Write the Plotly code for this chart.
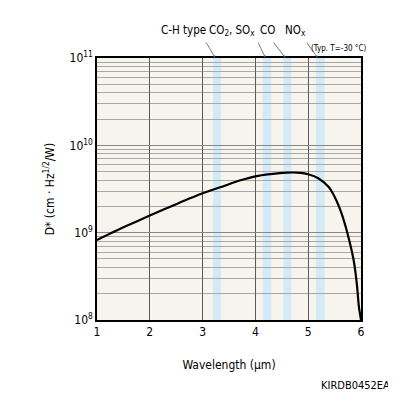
import plotly.graph_objects as go

# Curve data (wavelength in um, D* in cm*Hz^1/2/W)
wavelength = [1.0, 1.5, 2.0, 2.5, 3.0, 3.42, 3.7, 4.0, 4.28, 4.6, 4.85, 5.0, 5.19, 5.38, 5.5, 5.63, 5.76, 5.86, 5.92, 5.96, 6.0]
dstar = [8.24e8, 1.15e9, 1.57e9, 2.12e9, 2.82e9, 3.45e9, 3.95e9, 4.42e9, 4.68e9, 4.87e9, 4.85e9, 4.67e9, 4.20e9, 3.37e9, 2.58e9, 1.67e9, 9.0e8, 4.87e8, 2.63e8, 1.42e8, 1.0e8]

# Absorption bands (um)
band_names = ["C-H type", "CO2, SOx", "CO", "NOx"]
band_start = [3.20, 4.14, 4.53, 5.15]
band_end = [3.35, 4.30, 4.68, 5.31]

x_ticks = [1, 2, 3, 4, 5, 6]
y_ticks = [1e8, 1e9, 1e10, 1e11]
y_ticktext = ["10<sup>8</sup>", "10<sup>9</sup>", "10<sup>10</sup>", "10<sup>11</sup>"]
y_minor = [m * 10 ** e for e in (8, 9, 10) for m in range(2, 10)]

FONT = "DejaVu Sans Condensed, Liberation Sans, sans-serif"

fig = go.Figure()
fig.add_trace(go.Scatter(x=wavelength, y=dstar, mode="lines",
                         line=dict(color="black", width=2.2, shape="spline", smoothing=0.6),
                         hoverinfo="skip", showlegend=False))

for s, e in zip(band_start, band_end):
    fig.add_shape(type="rect", xref="x", yref="paper", x0=s, x1=e, y0=0, y1=1,
                  fillcolor="#d3eaf8", line=dict(width=0), layer="below")

# label texts (left edges in page px)
labels = [("C-H type", 159, 30), ("CO<sub>2</sub>, SO<sub>x</sub>", 207, 30),
          ("CO", 258, 30), ("NO<sub>x</sub>", 283, 30)]
for txt, px, py in labels:
    fig.add_annotation(text=txt, xref="paper", yref="paper",
                       x=(px - 97) / 264, y=1 + (58 - py) / 262,
                       showarrow=False, font=dict(family=FONT, size=11.5, color="black"),
                       xanchor="left", yanchor="middle")
fig.add_annotation(text="(Typ. T=-30 °C)", xref="paper", yref="paper",
                   x=(338 - 97) / 264, y=1 + (58 - 48) / 262, showarrow=False,
                   font=dict(family=FONT, size=8, color="black"),
                   xanchor="center", yanchor="middle")

arrow_tips = [3.24, 4.19, 4.57, 5.18]
arrow_dx = [-10, -8, -13, -12]
for tx, dx in zip(arrow_tips, arrow_dx):
    fig.add_annotation(text="", x=tx, xref="x", y=1, yref="paper",
                       ax=dx, ay=-17, showarrow=True, arrowhead=2,
                       arrowsize=0.7, arrowwidth=0.7, arrowcolor="#444")

fig.add_annotation(text="KIRDB0452EA", xref="paper", yref="paper",
                   x=(392 - 97) / 264, y=(320 - 386) / 262, showarrow=False,
                   xanchor="right", yanchor="middle",
                   font=dict(family=FONT, size=11, color="black"))

fig.update_layout(
    width=388, height=388,
    margin=dict(l=89, r=35, t=50, b=76),
    paper_bgcolor="white", plot_bgcolor="#f6f4ec",
    font=dict(family=FONT, size=12, color="black"),
    xaxis=dict(range=[1, 6], tickvals=x_ticks, showgrid=True, gridcolor="#5a5a5a",
               gridwidth=1, showline=True, linecolor="black", linewidth=1.5, mirror=True,
               ticks="", zeroline=False,
               title=dict(text="Wavelength (μm)", font=dict(family=FONT, size=12), standoff=22)),
    yaxis=dict(type="log", range=[8, 11], tickvals=y_ticks, ticktext=y_ticktext,
               showgrid=True, gridcolor="#888", gridwidth=1,
               minor=dict(tickvals=y_minor, showgrid=True, gridcolor="#a8a8a8", gridwidth=0.8, ticks=""),
               showline=True, linecolor="black", linewidth=1.5, mirror=True, ticks="",
               title=dict(text="D* (cm · Hz<sup>1/2</sup>/W)", font=dict(family=FONT, size=12), standoff=12)),
)

fig.write_html("out.html")
